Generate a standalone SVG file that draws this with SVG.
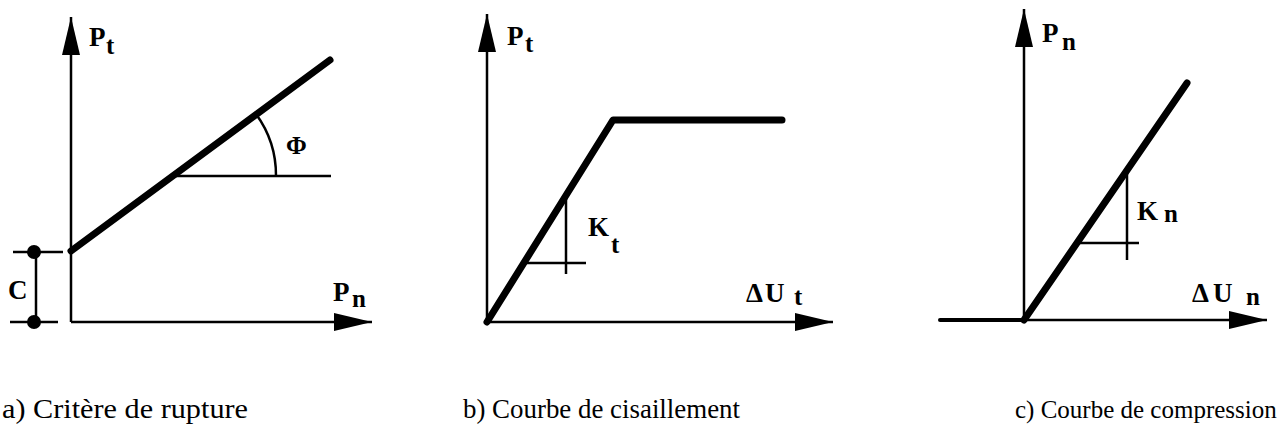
<svg xmlns="http://www.w3.org/2000/svg" width="1284" height="430" viewBox="0 0 1284 430">
<style>
.ax{stroke:#000;stroke-width:2.5;fill:none}
.hv{stroke:#000;stroke-width:7;fill:none;stroke-linecap:round;stroke-linejoin:round}
.th{stroke:#000;stroke-width:2.5;fill:none}
.lb{font-family:"Liberation Serif","Times New Roman",serif;font-weight:bold;font-size:27px;fill:#000}
.sb{font-family:"Liberation Serif","Times New Roman",serif;font-weight:bold;font-size:25px;fill:#000}
.cap{font-family:"Liberation Serif","Times New Roman",serif;font-size:27px;fill:#000}
</style>
<defs>
<marker id="arr" markerUnits="userSpaceOnUse" markerWidth="40" markerHeight="22" viewBox="0 0 40 22" refX="38" refY="11" orient="auto">
<path d="M0,2 L38,11 L0,20 Z" fill="#000"/>
</marker>
</defs>
<rect width="1284" height="430" fill="#fff"/>
<g id="connectors">
<line class="ax" x1="71" y1="322" x2="71" y2="17" marker-end="url(#arr)"/>
<line class="ax" x1="71" y1="322" x2="372" y2="322" marker-end="url(#arr)"/>
<line class="ax" x1="487" y1="322" x2="487" y2="14" marker-end="url(#arr)"/>
<line class="ax" x1="487" y1="322" x2="833" y2="322" marker-end="url(#arr)"/>
<line class="ax" x1="1024" y1="320" x2="1024" y2="9" marker-end="url(#arr)"/>
<line class="ax" x1="1024" y1="320" x2="1267" y2="320" marker-end="url(#arr)"/>
</g>
<g id="panel-a">
<line class="hv" x1="71" y1="251" x2="330" y2="60"/>
<line class="th" x1="172" y1="176" x2="331" y2="176"/>
<path class="th" d="M256,114 A104,104 0 0 1 276,176"/>
<text class="lb" x="286" y="154" style="font-size:25px">Φ</text>
<line class="th" x1="13" y1="252" x2="63" y2="252"/>
<line class="th" x1="10" y1="322" x2="58" y2="322"/>
<line class="th" x1="36" y1="252" x2="36" y2="322"/>
<circle cx="34" cy="252" r="7"/>
<circle cx="34" cy="322" r="7"/>
<text class="lb" x="8" y="299">C</text>
<text class="lb" x="89" y="46">P</text><text class="sb" x="106" y="54">t</text>
<text class="lb" x="333" y="301">P</text><text class="sb" x="352" y="307">n</text>
<text class="cap" x="2" y="418" textLength="246" lengthAdjust="spacingAndGlyphs">a) Critère de rupture</text>
</g>
<g id="panel-b">
<polyline class="hv" points="487,322 613,120 782,120"/>
<line class="th" x1="566" y1="195" x2="566" y2="274"/>
<line class="th" x1="524" y1="263" x2="586" y2="263"/>
<text class="lb" x="588" y="236">K</text><text class="sb" x="611" y="253">t</text>
<text class="lb" x="507" y="45">P</text><text class="sb" x="525" y="52">t</text>
<text class="lb" x="746" y="302">Δ</text><text class="lb" x="765" y="302">U</text><text class="sb" x="794" y="305">t</text>
<text class="cap" x="463" y="418" textLength="277" lengthAdjust="spacingAndGlyphs">b) Courbe de cisaillement</text>
</g>
<g id="panel-c">
<line class="hv" x1="940" y1="320" x2="1024" y2="320" style="stroke-width:4"/>
<line class="hv" x1="1024" y1="320" x2="1187" y2="83"/>
<line class="th" x1="1127" y1="171" x2="1127" y2="260"/>
<line class="th" x1="1077" y1="243" x2="1139" y2="243"/>
<text class="lb" x="1137" y="220">K</text><text class="sb" x="1164" y="222">n</text>
<text class="lb" x="1042" y="42">P</text><text class="sb" x="1062" y="50">n</text>
<text class="lb" x="1192" y="302">Δ</text><text class="lb" x="1213" y="302">U</text><text class="sb" x="1246" y="305">n</text>
<text class="cap" x="1015" y="418" style="font-size:25px">c) Courbe de compression</text>
</g>
</svg>
